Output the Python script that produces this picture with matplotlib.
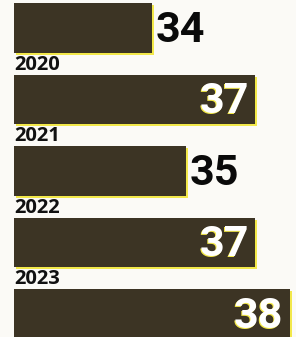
import matplotlib
matplotlib.use("Agg")
import matplotlib.pyplot as plt
import matplotlib.transforms as mtransforms

years = ["2019", "2020", "2021", "2022", "2023"]
values = [34, 37, 35, 37, 38]
label_inside = [False, True, False, True, True]

BAR = "#3c3424"
YEL = "#f2e84a"
BG = "#fbfaf6"

fig = plt.figure(figsize=(2.96, 3.37), dpi=100, facecolor=BG)
ax = fig.add_axes([14 / 296, 0, 1 - 14 / 296, 1])
ax.set_facecolor(BG)

pos = list(range(len(years)))
h = 0.69
base = 30

widths = [v - base for v in values]
# yellow misregistration layer shifted right/down behind the dark bar
ybars = ax.barh(pos, widths, height=h, left=base, color=YEL, zorder=1)
off = mtransforms.ScaledTranslation(2 / 100, -2 / 100, fig.dpi_scale_trans)
for p in ybars.patches:
    p.set_transform(ax.transData + off)
bars = ax.barh(pos, widths, height=h, left=base, color=BAR, zorder=2)

ax.set_xlim(base, base + 282 / 34.5)
ax.set_ylim(4.32, -0.392)

for i, (yr, v, ins) in enumerate(zip(years, values, label_inside)):
    ax.text(base, i - h / 2 + 0.0, yr, ha="left", va="bottom", fontsize=14.5,
            fontweight="bold", family="Open Sans", color="#111111", clip_on=False)
    if ins:
        tr = ax.transData + mtransforms.ScaledTranslation(-1 / 100, -1 / 100, fig.dpi_scale_trans)
        ax.text(v - 0.2, i + 0.03, str(v), ha="right", va="center", fontsize=31,
                fontweight="bold", family="Roboto", color=YEL, transform=tr, zorder=3)
        ax.text(v - 0.2, i + 0.03, str(v), ha="right", va="center", fontsize=31,
                fontweight="bold", family="Roboto", color="white", zorder=4)
    else:
        ax.text(v + 0.1, i + 0.03, str(v), ha="left", va="center", fontsize=31,
                fontweight="bold", family="Roboto", color="#0a0a0a", zorder=4)

ax.axis("off")
fig.savefig("out.png", dpi=100, facecolor=BG)
